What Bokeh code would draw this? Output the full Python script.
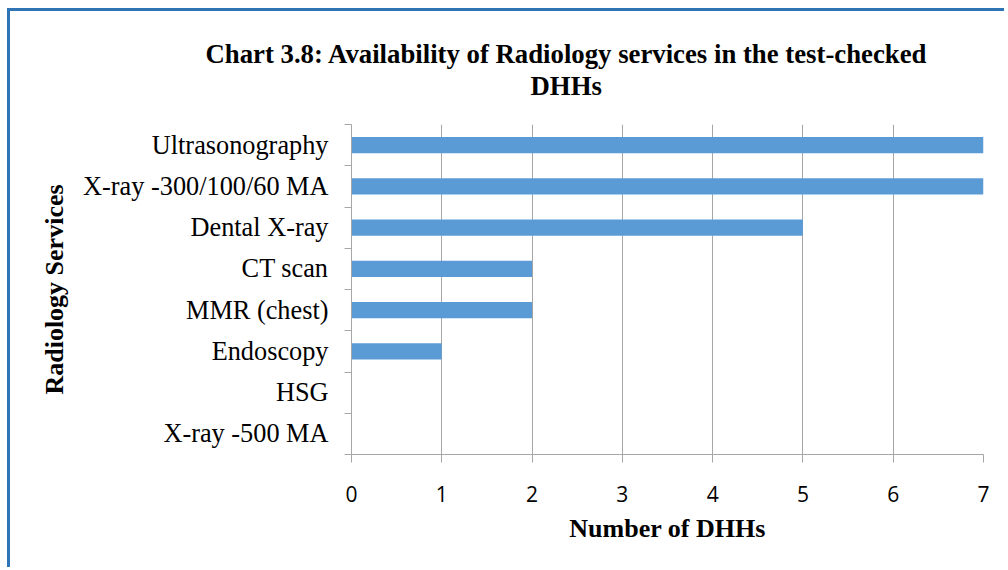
from bokeh.plotting import figure
from bokeh.models import FixedTicker, Range1d, Title, ColumnDataSource
from bokeh.embed import file_html
from bokeh.resources import INLINE

# Data (bottom to top)
services = ["X-ray -500 MA", "HSG", "Endoscopy", "MMR (chest)", "CT scan",
            "Dental X-ray", "X-ray -300/100/60 MA", "Ultrasonography"]
counts = [0, 0, 1, 2, 2, 5, 7, 7]
x_ticks = [0, 1, 2, 3, 4, 5, 6, 7]

title_line1 = "Chart 3.8: Availability of Radiology services in the test-checked"
title_line2 = "DHHs"
x_title = "Number of DHHs"
y_title = "Radiology Services"

pos = [i + 0.5 for i in range(len(services))]
src = ColumnDataSource(dict(y=pos, right=counts, name=services))

SERIF = "Liberation Serif"
GRAY = "#a6a6a6"
BLUE_BORDER = "#2f74b5"

p = figure(width=997, height=559, output_backend="svg", toolbar_location=None,
           x_range=Range1d(0, 7), y_range=Range1d(0, len(services)),
           min_border_left=341, min_border_right=24, min_border_top=113,
           min_border_bottom=116,
           styles={"border-left": f"3px solid {BLUE_BORDER}",
                   "border-top": f"3px solid {BLUE_BORDER}",
                   "margin-left": "7px", "margin-top": "8px"})

p.hbar(y="y", right="right", left=0, height=0.39, source=src,
       fill_color="#5b9bd5", line_color=None)

p.outline_line_color = None
p.ygrid.grid_line_color = None
p.xgrid.grid_line_color = GRAY
p.xgrid.grid_line_width = 1
p.xgrid.ticker = FixedTicker(ticks=x_ticks)

# x axis
xa = p.xaxis[0]
xa.ticker = FixedTicker(ticks=x_ticks)
xa.axis_line_color = GRAY
xa.major_tick_line_color = GRAY
xa.major_tick_out = 8
xa.major_tick_in = 0
xa.minor_tick_line_color = None
xa.major_label_text_font = "Open Sans"
xa.major_label_text_font_size = "21px"
xa.major_label_text_color = "#000000"
xa.major_label_standoff = 23
xa.axis_label = x_title
xa.axis_label_text_font = SERIF
xa.axis_label_text_font_style = "bold"
xa.axis_label_text_font_size = "26px"
xa.axis_label_text_color = "#000000"
xa.axis_label_standoff = 9

# y axis
ya = p.yaxis[0]
ya.ticker = FixedTicker(ticks=pos, minor_ticks=list(range(len(services) + 1)))
ya.major_label_overrides = {pv: s for pv, s in zip(pos, services)}
ya.axis_line_color = GRAY
ya.major_tick_line_color = None
ya.major_tick_out = 0
ya.major_tick_in = 0
ya.minor_tick_line_color = GRAY
ya.minor_tick_out = 7
ya.minor_tick_in = 0
ya.major_label_text_font = SERIF
ya.major_label_text_font_size = "26.3px"
ya.major_label_text_color = "#000000"
ya.major_label_standoff = 16
ya.axis_label = y_title
ya.axis_label_text_font = SERIF
ya.axis_label_text_font_style = "bold"
ya.axis_label_text_font_size = "26px"
ya.axis_label_text_color = "#000000"
ya.axis_label_standoff = 11

# Title: spacer nearest frame, then second line, then first line
p.add_layout(Title(text=" ", text_font_size="10px", standoff=11), "above")
p.add_layout(Title(text=title_line2, align="left", offset=179, standoff=0,
                   text_font=SERIF, text_font_style="bold", text_font_size="26.75px",
                   text_color="#000000"), "above")
p.add_layout(Title(text=title_line1, align="left", offset=-146, standoff=0,
                   text_font=SERIF, text_font_style="bold", text_font_size="26.75px",
                   text_color="#000000"), "above")

open("out.html", "w").write(file_html(p, INLINE))
